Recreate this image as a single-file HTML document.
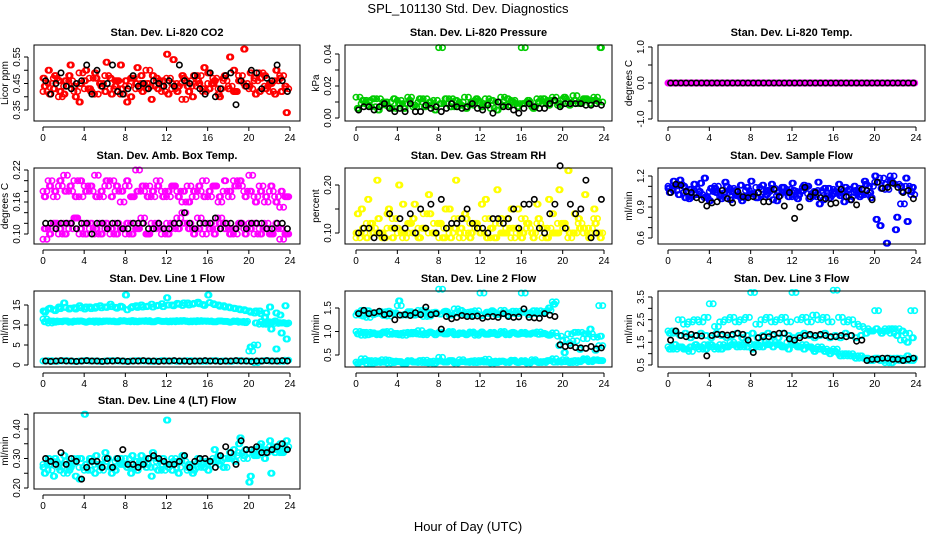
<!DOCTYPE html>
<html><head><meta charset="utf-8"><title>SPL_101130 Std. Dev. Diagnostics</title>
<style>
html,body{margin:0;padding:0;background:#fff;}
svg{display:block;font-family:"Liberation Sans",Arial,sans-serif;}
</style></head>
<body>
<svg id="chart" width="936" height="540" viewBox="0 0 936 540" xmlns="http://www.w3.org/2000/svg">
<text x="468" y="13" text-anchor="middle" font-size="13">SPL_101130  Std. Dev. Diagnostics</text>
<text x="468" y="531" text-anchor="middle" font-size="13">Hour of Day (UTC)</text>
</svg>
<script>
// x categories (hours of day)
const hoursA = [];
for (let i = 0; i < 48; i++) hoursA.push(i * 0.5);
const hoursB = [];
for (let i = 0; i < 48; i++) hoursB.push(i * 0.5 + 0.25);
const xTicks = [0, 4, 8, 12, 16, 20, 24];

// Panel 1: CO2
const co2Red1 = [0.47,0.50,0.43,0.46,0.41,0.48,0.44,0.38,0.46,0.43,0.49,0.45,0.42,0.47,0.44,0.52,0.46,0.40,0.45,0.48,0.43,0.39,0.47,0.44,0.56,0.45,0.42,0.48,0.44,0.40,0.46,0.43,0.49,0.45,0.41,0.47,0.43,0.50,0.46,0.58,0.44,0.47,0.42,0.48,0.45,0.41,0.47,0.44];
const co2Red2 = [0.44,0.41,0.48,0.42,0.46,0.52,0.40,0.45,0.50,0.42,0.47,0.44,0.53,0.41,0.46,0.43,0.38,0.47,0.51,0.42,0.45,0.48,0.43,0.46,0.41,0.54,0.44,0.47,0.42,0.48,0.45,0.51,0.43,0.46,0.40,0.48,0.55,0.42,0.46,0.44,0.49,0.41,0.47,0.43,0.45,0.50,0.42,0.34];
const co2Red3 = [0.42,0.45,0.47,0.40,0.44,0.46,0.42,0.49,0.43,0.47,0.41,0.45,0.48,0.43,0.46,0.41,0.44,0.47,0.43,0.45,0.50,0.44,0.46,0.42,0.47,0.43,0.45,0.39,0.46,0.44,0.48,0.42,0.45,0.47,0.43,0.46,0.44,0.42,0.48,0.45,0.43,0.46,0.49,0.44,0.42,0.46,0.48,0.43];
const co2Black = [0.46,0.41,0.45,0.49,0.44,0.43,0.45,0.46,0.52,0.41,0.50,0.44,0.45,0.52,0.42,0.41,0.43,0.48,0.44,0.45,0.43,0.46,0.45,0.44,0.46,0.44,0.52,0.46,0.45,0.48,0.43,0.41,0.49,0.40,0.43,0.48,0.49,0.37,0.46,0.44,0.50,0.49,0.43,0.47,0.46,0.52,0.46,0.42];

// Panel 2: Pressure
const presGreen1 = [0.013,0.009,0.011,0.007,0.012,0.008,0.010,0.006,0.011,0.009,0.013,0.007,0.010,0.012,0.008,0.011,0.044,0.009,0.012,0.007,0.010,0.013,0.008,0.011,0.009,0.012,0.006,0.010,0.013,0.008,0.011,0.009,0.044,0.010,0.007,0.012,0.009,0.011,0.013,0.008,0.012,0.010,0.014,0.009,0.012,0.011,0.013,0.010];
const presGreen2 = [0.006,0.011,0.008,0.012,0.005,0.010,0.007,0.012,0.009,0.006,0.011,0.008,0.012,0.007,0.010,0.005,0.009,0.012,0.007,0.011,0.008,0.006,0.010,0.012,0.007,0.009,0.011,0.005,0.008,0.012,0.010,0.007,0.009,0.011,0.006,0.010,0.012,0.008,0.011,0.009,0.013,0.008,0.011,0.010,0.012,0.009,0.011,0.044];
const presBlack = [0.005,0.007,0.007,0.005,0.007,0.009,0.006,0.004,0.006,0.004,0.009,0.004,0.004,0.008,0.006,0.007,0.004,0.006,0.009,0.007,0.006,0.007,0.009,0.006,0.005,0.008,0.003,0.010,0.007,0.007,0.005,0.003,0.006,0.009,0.007,0.006,0.006,0.009,0.011,0.007,0.009,0.009,0.009,0.009,0.008,0.008,0.009,0.008];

// Panel 3: Li-820 temp
const tempMag = [0,0,0,0,0,0,0,0,0,0,0,0,0,0,0,0,0,0,0,0,0,0,0,0,0,0,0,0,0,0,0,0,0,0,0,0,0,0,0,0,0,0,0,0,0,0,0,0];
const tempBlack = [0,0,0,0,0,0,0,0,0,0,0,0,0,0,0,0,0,0,0,0,0,0,0,0,0,0,0,0,0,0,0,0,0,0,0,0,0,0,0,0,0,0,0,0,0,0,0,0];

// Panel 4: Amb box temp
const ambMag1 = [0.18,0.20,0.17,0.19,0.21,0.18,0.20,0.17,0.19,0.18,0.21,0.17,0.19,0.20,0.18,0.16,0.19,0.17,0.22,0.18,0.19,0.17,0.20,0.18,0.17,0.19,0.18,0.16,0.19,0.17,0.18,0.20,0.17,0.19,0.16,0.18,0.17,0.20,0.19,0.18,0.21,0.17,0.19,0.16,0.18,0.17,0.15,0.17];
const ambMag2 = [0.17,0.19,0.18,0.20,0.18,0.19,0.17,0.20,0.18,0.19,0.17,0.18,0.20,0.17,0.19,0.18,0.20,0.17,0.18,0.19,0.17,0.18,0.19,0.17,0.18,0.19,0.17,0.18,0.16,0.18,0.19,0.17,0.18,0.19,0.17,0.20,0.18,0.19,0.20,0.17,0.18,0.16,0.18,0.17,0.19,0.16,0.18,0.17];
const ambMag3 = [0.09,0.11,0.12,0.10,0.12,0.11,0.13,0.10,0.12,0.11,0.10,0.12,0.11,0.10,0.12,0.11,0.10,0.12,0.11,0.13,0.10,0.12,0.11,0.10,0.12,0.11,0.13,0.14,0.12,0.11,0.13,0.10,0.12,0.11,0.13,0.12,0.11,0.10,0.12,0.11,0.12,0.10,0.11,0.12,0.10,0.11,0.09,0.10];
const ambMag4 = [0.11,0.10,0.12,0.11,0.10,0.12,0.13,0.11,0.10,0.12,0.11,0.10,0.12,0.11,0.10,0.11,0.12,0.10,0.11,0.12,0.10,0.11,0.12,0.11,0.10,0.12,0.11,0.12,0.11,0.10,0.11,0.12,0.11,0.10,0.12,0.11,0.10,0.11,0.12,0.10,0.11,0.12,0.10,0.11,0.10,0.12,0.11,0.10];
const ambBlack = [0.12,0.12,0.11,0.12,0.12,0.12,0.11,0.12,0.12,0.10,0.12,0.12,0.11,0.12,0.12,0.11,0.11,0.12,0.12,0.12,0.11,0.11,0.12,0.11,0.11,0.12,0.12,0.14,0.12,0.11,0.12,0.12,0.12,0.13,0.11,0.12,0.12,0.11,0.12,0.11,0.12,0.12,0.12,0.11,0.11,0.12,0.12,0.11];

// Panel 5: Gas stream RH
const rhYel1 = [0.10,0.15,0.09,0.12,0.21,0.10,0.14,0.09,0.11,0.16,0.10,0.13,0.09,0.11,0.18,0.10,0.12,0.09,0.15,0.11,0.10,0.14,0.09,0.12,0.10,0.17,0.11,0.09,0.13,0.10,0.15,0.11,0.09,0.12,0.10,0.16,0.11,0.09,0.14,0.10,0.12,0.23,0.10,0.13,0.11,0.09,0.15,0.10];
const rhYel2 = [0.14,0.11,0.17,0.10,0.13,0.09,0.15,0.11,0.20,0.10,0.12,0.16,0.09,0.11,0.14,0.10,0.12,0.15,0.09,0.21,0.11,0.13,0.10,0.12,0.16,0.09,0.11,0.19,0.10,0.13,0.11,0.15,0.10,0.12,0.09,0.13,0.11,0.17,0.10,0.19,0.12,0.10,0.14,0.11,0.18,0.10,0.12,0.09];
const rhYel3 = [0.09,0.10,0.12,0.11,0.10,0.09,0.11,0.13,0.10,0.09,0.12,0.10,0.11,0.14,0.10,0.12,0.09,0.11,0.10,0.13,0.09,0.10,0.12,0.11,0.10,0.13,0.09,0.12,0.10,0.11,0.09,0.10,0.13,0.11,0.10,0.12,0.09,0.11,0.10,0.12,0.11,0.09,0.10,0.12,0.10,0.11,0.13,0.10];
const rhBlack = [0.10,0.11,0.11,0.09,0.10,0.09,0.14,0.11,0.13,0.11,0.14,0.10,0.15,0.11,0.16,0.10,0.17,0.11,0.12,0.12,0.13,0.15,0.12,0.11,0.11,0.10,0.13,0.13,0.12,0.13,0.15,0.11,0.16,0.16,0.17,0.11,0.10,0.14,0.16,0.24,0.11,0.16,0.14,0.15,0.21,0.09,0.10,0.17];

// Panel 6: Sample flow
const sfBlue1 = [1.08,1.15,1.02,1.10,0.98,1.12,1.05,1.18,0.96,1.08,1.03,1.14,0.97,1.06,1.11,1.00,1.15,0.99,1.07,1.02,1.12,0.96,1.09,1.04,1.13,0.98,1.06,1.10,1.01,1.14,0.97,1.08,1.03,1.12,0.95,1.07,1.10,1.00,1.15,1.04,1.20,0.72,1.12,1.16,0.68,1.10,1.18,1.05];
const sfBlue2 = [1.04,1.10,1.16,0.99,1.07,1.02,1.13,1.00,1.08,1.04,0.98,1.10,1.05,1.01,0.96,1.09,1.03,0.99,1.11,1.06,0.97,1.04,1.09,1.00,1.06,1.02,1.11,0.98,1.05,0.93,1.08,0.99,1.05,1.01,1.09,0.97,1.06,1.02,1.12,0.99,0.78,1.08,0.55,1.14,0.80,1.05,0.76,1.09];
const sfBlue3 = [1.10,1.06,1.12,1.04,1.00,1.07,1.02,0.99,1.05,1.10,1.00,1.04,1.08,1.02,0.99,1.06,1.03,1.09,1.00,1.05,1.08,1.01,1.04,1.07,1.00,1.05,1.09,1.03,1.00,1.06,1.04,1.01,1.07,1.03,1.06,1.00,1.04,1.08,1.02,1.10,1.14,1.18,1.07,1.20,1.12,0.93,1.10,1.02];
const sfBlack = [1.04,1.12,1.11,1.05,1.04,0.99,0.97,0.91,0.94,0.95,1.06,0.98,0.94,1.05,1.00,0.99,1.00,1.04,0.95,0.95,1.07,1.00,0.91,1.04,0.79,0.90,1.09,1.00,1.04,0.99,0.98,0.93,0.94,1.07,1.00,0.97,0.92,1.07,1.06,0.97,1.14,1.08,1.09,1.13,1.09,1.04,1.06,0.98];

// Panel 7: Line 1 flow
const l1Cyan1 = [13.5,14,13.8,14.5,15.5,14,14.3,14.8,14,14.5,14.2,14.8,14.5,15.2,14.4,14.7,17.5,14.3,14.8,15,14.6,15.2,14.8,15.3,16.8,15,15.4,14.9,15.5,15.2,15.7,15.1,17.5,15.3,15,14.8,14.5,14.2,14,13.8,13.5,13,13.5,12,14.5,11,12.5,14.8];
const l1Cyan2 = [13.2,14.2,13.6,14.1,14.4,14.2,14.0,14.3,14.5,14.1,14.6,14.3,14.4,14.6,14.2,14.5,13.8,14.6,14.4,14.5,14.7,14.5,14.9,14.6,15.0,14.8,15.2,15.5,15.0,15.4,15.3,14.9,15.6,15.1,14.7,14.5,14.3,14.1,13.8,13.6,13.2,13.5,12.8,13.0,9.0,13.0,8.0,6.5];
const l1Cyan3 = [11.5,10.5,11,10.8,11,10.7,11,10.9,10.8,11,10.7,11,10.9,11,10.8,11.1,11,10.8,11,10.9,11.1,10.8,11,10.9,11,10.8,11.1,10.9,11,10.8,11.1,10.9,11,10.8,11,10.9,10.8,11,10.7,10.9,3.5,5,10.2,10.5,10.8,10.4,10.6,10.5];
const l1Cyan4 = [10.8,11.0,10.7,10.9,11.0,10.8,10.9,11.0,10.7,10.9,11.0,10.8,11.0,10.9,10.8,11.0,10.9,11.1,10.8,11.0,10.9,10.8,11.1,10.9,10.8,11.0,10.9,11.1,10.8,11.0,10.9,11.0,10.9,10.8,11.0,10.9,10.7,10.9,10.8,10.6,4.5,10.5,10.8,10.2,10.7,4.0,10.5,10.3];
const l1Cyan5 = [1,1.1,0.9,1,1.1,1,0.9,1,1.1,1,1,0.9,1,1.1,1,1,0.9,1,1.1,1,1,0.9,1,1.1,1,1,0.9,1,1.1,1,1,0.9,1,1.1,1,1,0.9,1,1.1,1,1,0.6,1,1.1,1,1,0.9,1.2];
const l1Black = [1,0.9,1,1.1,1,1,0.9,1,1.1,1,1,0.9,1,1,1.1,1,0.9,1,1,1.1,1,1,0.9,1,1,1.1,1,1,0.9,1,1,1.1,1,1,0.9,1,1,1.1,1,1,0.9,1,1,1.1,1,1,1.1,1];

// Panel 8: Line 2 flow
const l2Cyan1 = [1.35,1.45,1.30,1.40,1.38,1.42,1.33,1.40,1.55,1.35,1.42,1.36,1.45,1.32,1.40,1.38,1.90,1.42,1.35,1.48,1.38,1.41,1.35,1.44,1.82,1.38,1.42,1.36,1.45,1.40,1.38,1.43,1.82,1.40,1.38,1.44,1.40,1.45,1.63,null,null,null,null,null,null,null,null,1.55];
const l2Cyan2 = [1.40,1.33,1.44,1.36,1.41,1.34,1.43,1.38,1.65,1.36,1.42,1.35,1.40,1.44,1.33,1.41,1.37,1.43,1.35,1.40,1.45,1.36,1.42,1.38,1.34,1.41,1.44,1.36,1.40,1.35,1.43,1.38,1.41,1.36,1.44,1.38,1.42,1.50,null,null,null,null,null,null,null,null,null,null];
const l2Cyan3 = [1.0,0.92,0.98,0.95,0.93,0.97,1.0,0.94,0.96,0.92,0.98,0.95,1.02,0.93,0.97,0.96,0.98,0.95,1.0,0.93,0.97,0.95,0.99,0.92,0.96,0.94,0.98,0.95,1.0,0.93,0.97,0.95,0.98,0.94,0.96,0.99,0.95,0.93,0.97,0.90,0.82,0.95,0.80,0.98,0.85,0.95,0.88,0.70];
const l2Cyan4 = [0.95,0.98,0.93,0.97,0.95,0.99,0.94,0.96,0.93,0.97,0.95,0.98,0.94,0.96,0.99,0.93,0.97,0.95,0.98,0.94,0.96,0.93,0.97,0.95,0.99,0.94,0.96,0.93,0.97,0.95,0.98,0.94,0.96,0.95,0.97,0.94,0.96,0.92,1.58,0.70,0.55,0.75,0.98,0.62,0.95,1.05,0.60,0.90];
const l2Cyan5 = [0.35,0.42,0.32,0.38,0.34,0.40,0.33,0.37,0.36,0.32,0.38,0.35,0.34,0.39,0.33,0.37,0.45,0.35,0.38,0.33,0.40,0.36,0.34,0.38,0.35,0.41,0.33,0.37,0.36,0.34,0.39,0.35,0.38,0.33,0.40,0.36,0.34,0.38,0.42,0.35,0.40,0.37,0.34,0.38,0.42,0.36,0.40,0.38];
const l2Cyan6 = [0.32,0.36,0.38,0.33,0.37,0.35,0.39,0.34,0.36,0.33,0.37,0.35,0.38,0.34,0.36,0.33,0.37,0.35,0.38,0.34,0.36,0.35,0.37,0.34,0.38,0.35,0.36,0.34,0.37,0.35,0.38,0.34,0.36,0.35,0.37,0.34,0.36,0.38,0.35,0.37,0.36,0.34,0.38,0.36,0.40,0.37,0.39,0.38];
const l2Black = [1.38,1.45,1.38,1.40,1.43,1.36,1.38,1.25,1.35,1.36,1.34,1.40,1.36,1.52,1.36,1.38,1.05,1.32,1.27,1.30,1.34,1.32,1.32,1.33,1.28,1.31,1.32,1.30,1.38,1.32,1.30,1.31,1.48,1.30,1.29,1.28,1.38,1.35,1.32,0.72,0.68,0.70,0.66,0.65,0.64,0.68,0.63,0.65];

// Panel 9: Line 3 flow
const l3Cyan1 = [2.0,1.9,2.5,2.3,2.4,2.5,2.4,2.6,3.2,2.2,2.4,2.5,2.6,2.4,2.5,2.6,3.7,2.3,2.5,2.6,2.4,2.5,2.6,2.4,3.7,2.5,2.6,2.4,2.7,2.5,2.6,2.4,3.8,2.6,2.4,2.5,2.3,2.2,2.1,2.0,2.9,2.0,2.1,1.9,2.1,1.6,1.9,2.9];
const l3Cyan2 = [1.9,2.0,1.8,1.9,1.7,1.8,1.9,1.8,1.7,1.9,1.8,1.7,1.8,1.9,1.7,1.8,1.9,1.7,1.8,1.9,1.8,1.7,1.9,1.8,1.7,1.8,1.9,1.8,1.7,1.8,1.9,1.7,1.8,1.7,1.9,1.8,1.7,1.8,1.9,2.0,2.1,1.9,2.0,2.1,1.8,2.0,1.5,1.7];
const l3Cyan3 = [1.3,1.2,1.3,1.2,1.1,1.3,1.2,1.4,1.3,1.2,1.4,1.3,1.5,1.4,1.3,1.5,1.4,1.3,1.5,1.4,1.5,1.4,1.3,1.5,1.4,1.3,1.4,1.3,1.2,1.3,1.2,1.1,1.2,1.0,0.9,1.0,0.9,0.8,0.8,0.7,0.8,0.7,0.6,0.8,0.7,0.8,0.7,0.8];
const l3Cyan4 = [1.2,1.4,1.3,1.2,1.3,1.4,1.3,1.2,1.4,1.3,1.2,1.3,1.4,1.3,1.4,1.3,1.2,1.4,1.3,1.4,1.3,1.4,1.3,1.2,1.4,1.3,1.2,1.3,1.1,1.2,1.1,1.0,1.1,0.9,1.0,0.9,0.8,0.9,0.8,0.7,0.8,0.7,0.8,0.6,0.8,0.7,0.9,0.7];
const l3Black = [1.6,2.0,1.8,1.75,1.85,1.8,1.78,0.9,1.8,1.85,1.85,1.82,1.85,1.9,1.85,1.6,1.05,1.7,1.75,1.75,1.85,1.9,1.9,1.65,1.6,1.7,1.8,1.85,1.8,1.85,1.8,1.75,1.75,1.8,1.75,1.8,1.55,1.6,0.7,0.75,0.75,0.8,0.8,0.75,0.75,0.7,0.75,0.8];

// Panel 10: Line 4 (LT) flow
const l4Cyan1 = [0.27,0.30,0.24,0.28,0.31,0.26,0.29,0.23,0.45,0.30,0.25,0.28,0.32,0.27,0.26,0.30,0.28,0.25,0.29,0.31,0.27,0.24,0.30,0.28,0.43,0.26,0.29,0.31,0.27,0.25,0.30,0.28,0.26,0.29,0.31,0.27,0.30,0.33,0.35,0.31,0.22,0.33,0.34,0.30,0.36,0.32,0.35,0.33];
const l4Cyan2 = [0.25,0.28,0.30,0.26,0.29,0.27,0.24,0.30,0.28,0.26,0.31,0.27,0.29,0.25,0.30,0.28,0.27,0.31,0.26,0.29,0.28,0.32,0.26,0.30,0.27,0.29,0.25,0.31,0.28,0.26,0.30,0.27,0.29,0.33,0.28,0.30,0.32,0.29,0.37,0.33,0.24,0.31,0.35,0.33,0.25,0.34,0.32,0.36];
const l4Cyan3 = [0.28,0.26,0.29,0.27,0.25,0.28,0.30,0.27,0.26,0.29,0.28,0.26,0.30,0.27,0.29,0.28,0.30,0.27,0.29,0.28,0.30,0.27,0.29,0.26,0.28,0.30,0.27,0.29,0.26,0.28,0.27,0.29,0.28,0.30,0.29,0.27,0.30,0.31,0.32,0.30,0.32,0.31,0.33,0.32,0.34,0.33,0.32,0.34];
const l4Black = [0.30,0.29,0.28,0.32,0.28,0.30,0.29,0.23,0.27,0.29,0.29,0.27,0.30,0.27,0.30,0.33,0.28,0.28,0.27,0.28,0.30,0.31,0.30,0.29,0.28,0.28,0.29,0.31,0.27,0.29,0.30,0.30,0.29,0.27,0.31,0.34,0.32,0.28,0.36,0.33,0.33,0.34,0.32,0.32,0.33,0.34,0.35,0.33];

const NS = "http://www.w3.org/2000/svg";
const svg = document.getElementById('chart');
const COLS = [{l:34,r:300,x0:43,x24:290},{l:345,r:612,x0:356,x24:604},{l:658,r:925,x0:668,x24:916}];
const ROWS = [{t:45,b:121},{t:168,b:244},{t:291,b:367},{t:413,b:489}];

function mk(tag, attrs, parent){
  const e = document.createElementNS(NS, tag);
  for (const k in attrs) e.setAttribute(k, attrs[k]);
  (parent || svg).appendChild(e);
  return e;
}

function panel(id, col, row, title, ylab, v1, p1, v2, p2, yTicks, yLabels, series){
  const C = COLS[col], R = ROWS[row];
  const g = mk('g', {});
  
  
  const xs = h => C.x0 + (C.x24 - C.x0) * h / 24;
  const ys = v => p1 + (p2 - p1) * (v - v1) / (v2 - v1);
  const t = mk('text', {x:(C.l+C.r)/2, y:R.t-9, 'text-anchor':'middle', 'font-size':11, 'font-weight':'bold'}, g);
  t.textContent = title;
  
  
  const pg = mk('g', {fill:'none', 'stroke-width':1.6}, g);
  const colored = series.filter(s => s.color !== '#000');
  const black = series.filter(s => s.color === '#000');
  const dot = (h, v, color) => {
    const c = mk('circle', {cx:xs(h).toFixed(1), cy:ys(v).toFixed(1), r:2.7, stroke:color}, pg);
    
    
  };
  // colored clouds: each series drawn at its hours, plus the next series' values offset by 1/8 h for density
  colored.forEach((s, k) => {
    s.vals.forEach((v, i) => { if (v !== null) dot(s.hours[i], v, s.color); });
    const n = colored[(k + 1) % colored.length];
    n.vals.forEach((v, i) => { if (v !== null) dot(s.hours[i] + 0.125, v, s.color); });
  });
  black.forEach(s => s.vals.forEach((v, i) => { if (v !== null) dot(s.hours[i], v, s.color); }));
  const box = mk('rect', {x:C.l, y:R.t, width:C.r-C.l, height:R.b-R.t, fill:'none', stroke:'#000', 'stroke-width':1}, g);
  
  
  const xa = mk('g', {}, g);
  
  
  mk('line', {x1:xs(0), x2:xs(24), y1:R.b+6, y2:R.b+6, stroke:'#000'}, xa);
  xTicks.forEach(h => {
    mk('line', {x1:xs(h), x2:xs(h), y1:R.b+6, y2:R.b+10, stroke:'#000'}, xa);
    const tl = mk('text', {x:xs(h), y:R.b+20, 'text-anchor':'middle', 'font-size':10}, xa);
    tl.textContent = h;
    
    
  });
  const ya = mk('g', {}, g);
  
  
  const yMin = Math.min(...yTicks), yMax = Math.max(...yTicks);
  const ax = C.l - 6;
  mk('line', {x1:ax, x2:ax, y1:ys(yMin), y2:ys(yMax), stroke:'#000'}, ya);
  yTicks.forEach(v => mk('line', {x1:ax-4, x2:ax, y1:ys(v), y2:ys(v), stroke:'#000'}, ya));
  yLabels.forEach(v => {
    const tx = ax - 8, ty = ys(v.v);
    const tl = mk('text', {x:tx, y:ty, 'text-anchor':'middle', 'font-size':10, transform:`rotate(-90 ${tx} ${ty})`}, ya);
    tl.textContent = v.s;
    
    
  });
  const yt = mk('text', {x:C.l-26, y:(R.t+R.b)/2, 'text-anchor':'middle', 'font-size':10, transform:`rotate(-90 ${C.l-26} ${(R.t+R.b)/2})`}, g);
  yt.textContent = ylab;
  
  
}
const L = (v, s) => ({v, s});

panel('co2', 0, 0, 'Stan. Dev. Li-820 CO2', 'Licor ppm', 0.35, 110, 0.55, 57,
  [0.35,0.40,0.45,0.50,0.55], [L(0.35,'0.35'),L(0.45,'0.45'),L(0.55,'0.55')],
  [{hours:hoursA, vals:co2Red1, color:'#ff0000'},{hours:hoursB, vals:co2Red2, color:'#ff0000'},{hours:hoursA, vals:co2Red3, color:'#ff0000'},{hours:hoursB, vals:co2Black, color:'#000'}]);
panel('pressure', 1, 0, 'Stan. Dev. Li-820 Pressure', 'kPa', 0, 118, 0.04, 54,
  [0,0.01,0.02,0.03,0.04], [L(0,'0.00'),L(0.02,'0.02'),L(0.04,'0.04')],
  [{hours:hoursA, vals:presGreen1, color:'#00cc00'},{hours:hoursB, vals:presGreen2, color:'#00cc00'},{hours:hoursB, vals:presBlack, color:'#000'}]);
panel('li820-temp', 2, 0, 'Stan. Dev. Li-820 Temp.', 'degrees C', -1, 119, 1, 47,
  [-1,-0.5,0,0.5,1], [L(-1,'-1.0'),L(0,'0.0'),L(1,'1.0')],
  [{hours:hoursA, vals:tempMag, color:'#ff00ff'},{hours:hoursB, vals:tempMag, color:'#ff00ff'},{hours:hoursB, vals:tempBlack, color:'#000'}]);
panel('amb-box-temp', 0, 1, 'Stan. Dev. Amb. Box Temp.', 'degrees C', 0.10, 234, 0.22, 170,
  [0.10,0.12,0.14,0.16,0.18,0.20,0.22], [L(0.10,'0.10'),L(0.16,'0.16'),L(0.22,'0.22')],
  [{hours:hoursA, vals:ambMag1, color:'#ff00ff'},{hours:hoursB, vals:ambMag2, color:'#ff00ff'},{hours:hoursA, vals:ambMag3, color:'#ff00ff'},{hours:hoursB, vals:ambMag4, color:'#ff00ff'},{hours:hoursB, vals:ambBlack, color:'#000'}]);
panel('gas-stream-rh', 1, 1, 'Stan. Dev. Gas Stream RH', 'percent', 0.10, 233, 0.20, 185,
  [0.10,0.15,0.20], [L(0.10,'0.10'),L(0.20,'0.20')],
  [{hours:hoursA, vals:rhYel1, color:'#ffff00'},{hours:hoursB, vals:rhYel2, color:'#ffff00'},{hours:hoursA, vals:rhYel3, color:'#ffff00'},{hours:hoursB, vals:rhBlack, color:'#000'}]);
panel('sample-flow', 2, 1, 'Stan. Dev. Sample Flow', 'ml/min', 0.6, 238, 1.2, 176,
  [0.6,0.7,0.8,0.9,1.0,1.1,1.2], [L(0.6,'0.6'),L(0.9,'0.9'),L(1.2,'1.2')],
  [{hours:hoursA, vals:sfBlue1, color:'#0000ff'},{hours:hoursB, vals:sfBlue2, color:'#0000ff'},{hours:hoursA, vals:sfBlue3, color:'#0000ff'},{hours:hoursB, vals:sfBlack, color:'#000'}]);
panel('line1-flow', 0, 2, 'Stan. Dev. Line 1 Flow', 'ml/min', 0, 365, 15, 305,
  [0,5,10,15], [L(0,'0'),L(5,'5'),L(10,'10'),L(15,'15')],
  [{hours:hoursA, vals:l1Cyan1, color:'#00ffff'},{hours:hoursB, vals:l1Cyan2, color:'#00ffff'},{hours:hoursA, vals:l1Cyan3, color:'#00ffff'},{hours:hoursB, vals:l1Cyan4, color:'#00ffff'},{hours:hoursA, vals:l1Cyan5, color:'#00ffff'},{hours:hoursB, vals:l1Black, color:'#000'}]);
panel('line2-flow', 1, 2, 'Stan. Dev. Line 2 Flow', 'ml/min', 0.5, 355, 1.5, 308,
  [0.5,1.0,1.5], [L(0.5,'0.5'),L(1.0,'1.0'),L(1.5,'1.5')],
  [{hours:hoursA, vals:l2Cyan1, color:'#00ffff'},{hours:hoursB, vals:l2Cyan2, color:'#00ffff'},{hours:hoursA, vals:l2Cyan3, color:'#00ffff'},{hours:hoursB, vals:l2Cyan4, color:'#00ffff'},{hours:hoursA, vals:l2Cyan5, color:'#00ffff'},{hours:hoursB, vals:l2Cyan6, color:'#00ffff'},{hours:hoursB, vals:l2Black, color:'#000'}]);
panel('line3-flow', 2, 2, 'Stan. Dev. Line 3 Flow', 'ml/min', 0.5, 365, 3.5, 297,
  [0.5,1.0,1.5,2.0,2.5,3.0,3.5], [L(0.5,'0.5'),L(1.5,'1.5'),L(2.5,'2.5'),L(3.5,'3.5')],
  [{hours:hoursA, vals:l3Cyan1, color:'#00ffff'},{hours:hoursB, vals:l3Cyan2, color:'#00ffff'},{hours:hoursA, vals:l3Cyan3, color:'#00ffff'},{hours:hoursB, vals:l3Cyan4, color:'#00ffff'},{hours:hoursB, vals:l3Black, color:'#000'}]);
panel('line4-flow', 0, 3, 'Stan. Dev. Line 4 (LT) Flow', 'ml/min', 0.20, 488, 0.40, 429,
  [0.20,0.25,0.30,0.35,0.40,0.45], [L(0.20,'0.20'),L(0.30,'0.30'),L(0.40,'0.40')],
  [{hours:hoursA, vals:l4Cyan1, color:'#00ffff'},{hours:hoursB, vals:l4Cyan2, color:'#00ffff'},{hours:hoursA, vals:l4Cyan3, color:'#00ffff'},{hours:hoursB, vals:l4Black, color:'#000'}]);
</script>
</body></html>
